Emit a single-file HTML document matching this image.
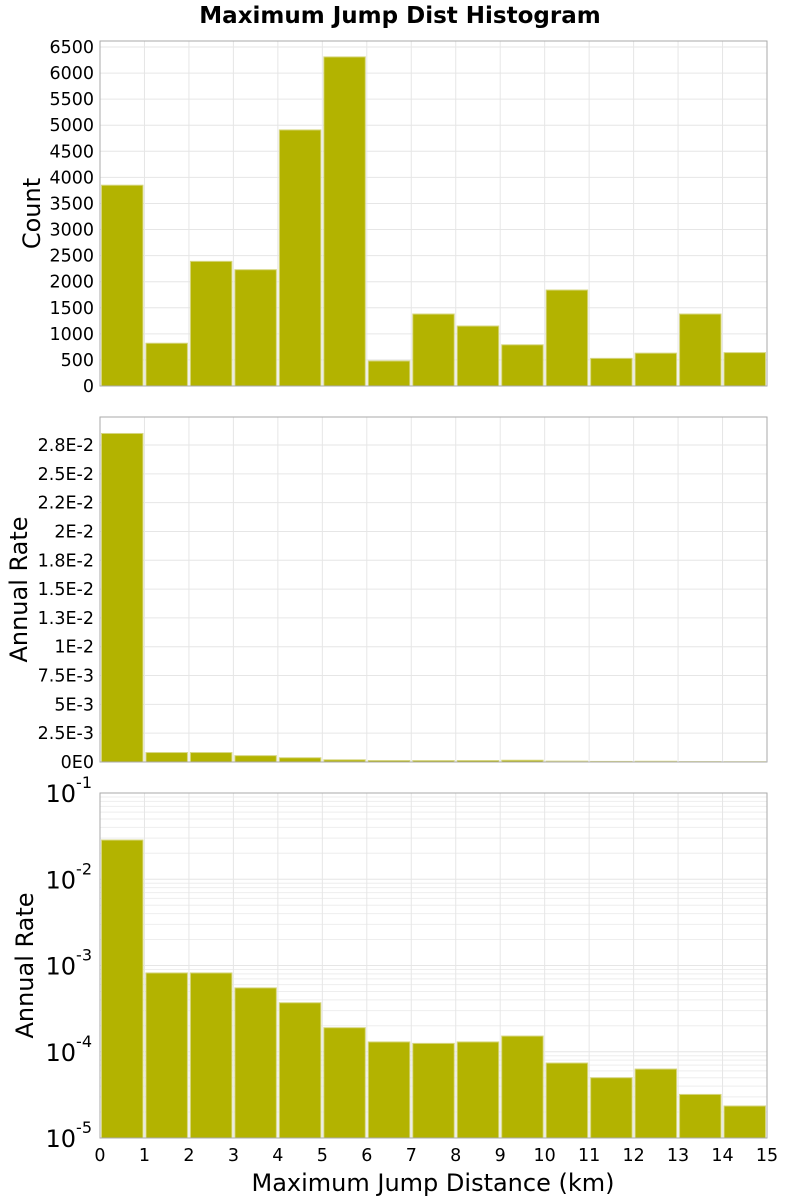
<!DOCTYPE html>
<html><head><meta charset="utf-8"><style>body{margin:0;background:#fff}svg{display:block;font-family:"DejaVu Sans","Liberation Sans",sans-serif}</style></head>
<body>
<svg id="c" width="800" height="1200">
<text x="400" y="23" text-anchor="middle" font-size="23" font-weight="bold">Maximum Jump Dist Histogram</text>
<text x="433" y="1191" text-anchor="middle" font-size="24">Maximum Jump Distance (km)</text>
</svg>
<script>
const bins=[0,1,2,3,4,5,6,7,8,9,10,11,12,13,14];
const counts=[3850,820,2390,2230,4910,6310,480,1380,1150,790,1840,530,630,1380,640];
const rates=[0.0285,8.2e-4,8.2e-4,5.5e-4,3.7e-4,1.9e-4,1.3e-4,1.25e-4,1.3e-4,1.52e-4,7.4e-5,5e-5,6.3e-5,3.2e-5,2.35e-5];
const countTicks=[0,500,1000,1500,2000,2500,3000,3500,4000,4500,5000,5500,6000,6500];
const rateTicks=[0,0.0025,0.005,0.0075,0.01,0.0125,0.015,0.0175,0.02,0.0225,0.025,0.0275];
const rateTickLabels=["0E0","2.5E-3","5E-3","7.5E-3","1E-2","1.3E-2","1.5E-2","1.8E-2","2E-2","2.2E-2","2.5E-2","2.8E-2"];
const logTicks=[-1,-2,-3,-4,-5];
const xTicks=[0,1,2,3,4,5,6,7,8,9,10,11,12,13,14,15];
const NS="http://www.w3.org/2000/svg",svg=document.getElementById('c');
const L=100,R=767;
const xs=v=>L+(R-L)*v/15;
function mk(t,a,p){const e=document.createElementNS(NS,t);for(const k in a)e.setAttribute(k,a[k]);(p||svg).appendChild(e);return e;}
function panel(top,bot,ys,ticks,labels,title,name,isLog){
  const g=mk('g',{});
  
  
  mk('rect',{x:L,y:top,width:R-L,height:bot-top,fill:'#fff'},g);
  if(isLog){for(let d=-5;d<-1;d++)for(let m=2;m<10;m++){const y=ys(Math.pow(10,d)*m);const l=mk('line',{x1:L,x2:R,y1:y,y2:y,stroke:'#eee','stroke-width':1},g);}}
  ticks.forEach((t,i)=>{const y=isLog?ys(Math.pow(10,t)):ys(t);
    const l=mk('line',{x1:L,x2:R,y1:y,y2:y,stroke:'#e6e6e6','stroke-width':1},g);
    
    
    if(isLog){const tx=mk('text',{x:L-8,y:y+9,'text-anchor':'end','font-size':24},g);tx.textContent='10';const s=mk('tspan',{dy:-14,'font-size':16},tx);s.textContent=String(t);
      
      }
    else{const tx=mk('text',{x:L-6,y:y+6,'text-anchor':'end','font-size':17.5},g);tx.textContent=labels[i];
      
      }
  });
  xTicks.forEach(t=>{const x=xs(t);const l=mk('line',{x1:x,x2:x,y1:top,y2:bot,stroke:'#e6e6e6'},g);
    
    });
  const vals=name==='count'?counts:rates;
  bins.forEach((b,i)=>{const y=Math.max(top,Math.min(bot,ys(vals[i])));const r=mk('rect',{x:xs(b)+1.5,y:y,width:xs(1)-L-3,height:Math.max(0,bot-y),fill:'#b3b300',stroke:'#d6d680','stroke-width':1},g);
    
    });
  mk('rect',{x:L,y:top,width:R-L,height:bot-top,fill:'none',stroke:'#aaa','stroke-width':1},g);
  const cy=(top+bot)/2;const tt=mk('text',{x:0,y:0,'text-anchor':'middle','font-size':24,transform:`translate(${name==='count'?40:name==='rate'?27:33},${cy}) rotate(-90)`},g);tt.textContent=title;
  
  
}
panel(41,386,v=>386-v*339/6500,countTicks,countTicks.map(String),'Count','count',false);
panel(417,762,v=>762-v*11527,rateTicks,rateTickLabels,'Annual Rate','rate',false);
panel(793,1138,v=>793+(-1-Math.log10(v))*86.25,logTicks,null,'Annual Rate','log-rate',true);
xTicks.forEach(t=>{const tx=mk('text',{x:xs(t),y:1161,'text-anchor':'middle','font-size':17.5});tx.textContent=String(t);
  
  });
</script>
</body></html>
